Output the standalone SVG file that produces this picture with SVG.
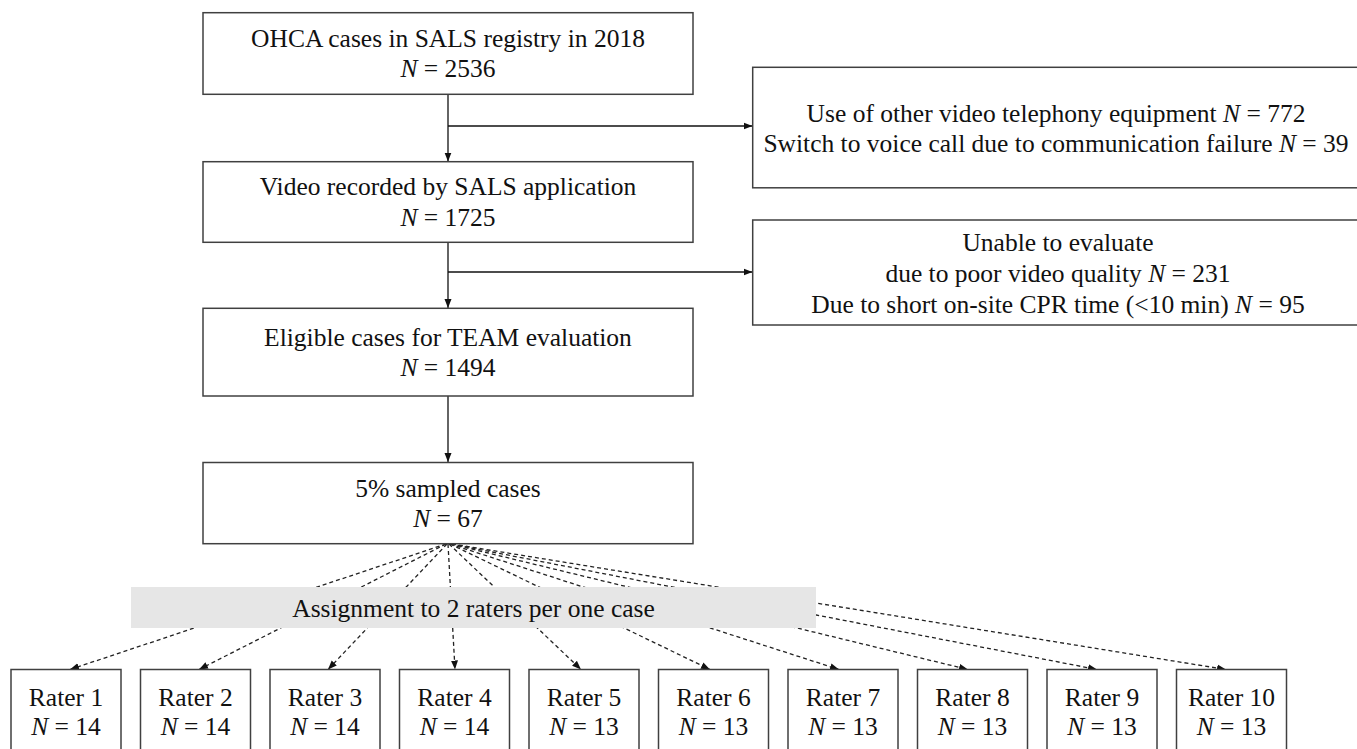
<svg xmlns="http://www.w3.org/2000/svg" width="1357" height="749" viewBox="0 0 1357 749">
<defs>
<style>
.box{fill:#ffffff;stroke:#404040;stroke-width:1.5}
.t{font-family:"Liberation Serif","Times New Roman",serif;font-size:25.5px;fill:#111;text-anchor:middle}
.i{font-style:italic}
.solid{fill:none;stroke:#111;stroke-width:1.3}
.dash{fill:none;stroke:#222;stroke-width:1.3;stroke-dasharray:4 3}
.band{fill:#e6e6e6;stroke:none}
</style>
<marker id="ah" markerUnits="userSpaceOnUse" markerWidth="10" markerHeight="8" refX="9" refY="4" orient="auto">
<path d="M0,0.5 L9,4 L0,7.5 z" fill="#111"/>
</marker>
</defs>
<rect width="1357" height="749" fill="#ffffff"/>

<g id="connectors">
<path class="solid" d="M448,94 V161.5" marker-end="url(#ah)"/>
<path class="solid" d="M448,126 H752.5" marker-end="url(#ah)"/>
<path class="solid" d="M448,242 V308" marker-end="url(#ah)"/>
<path class="solid" d="M448,272 H752.5" marker-end="url(#ah)"/>
<path class="solid" d="M448,396 V462" marker-end="url(#ah)"/>
<g class="dash">
<path d="M446,544 L70,669.5" marker-end="url(#ah)"/>
<path d="M446,544 L199,669.5" marker-end="url(#ah)"/>
<path d="M447,544 L328,669.5" marker-end="url(#ah)"/>
<path d="M448,544 L455,669.5" marker-end="url(#ah)"/>
<path d="M449,544 L581,669.5" marker-end="url(#ah)"/>
<path d="M450,544 L710,669.5" marker-end="url(#ah)"/>
<path d="M450,544 L839,669.5" marker-end="url(#ah)"/>
<path d="M451,544 L968,669.5" marker-end="url(#ah)"/>
<path d="M451,544 L1097,669.5" marker-end="url(#ah)"/>
<path d="M452,544 L1226,669.5" marker-end="url(#ah)"/>
</g>
</g>

<g id="assignment">
<rect class="band" x="131" y="587" width="685" height="41"/>
<text class="t" x="473.5" y="617">Assignment to 2 raters per one case</text>
</g>

<g id="ohca">
<rect class="box" x="203" y="12.7" width="490" height="81.6"/>
<text class="t" x="448" y="46.5">OHCA cases in SALS registry in 2018</text>
<text class="t" x="448" y="77"><tspan class="i">N</tspan> = 2536</text>
</g>

<g id="excluded1">
<rect class="box" x="752.7" y="67.3" width="610" height="120.5"/>
<text class="t" x="1056" y="121.5">Use of other video telephony equipment <tspan class="i">N</tspan> = 772</text>
<text class="t" x="1056" y="151.5">Switch to voice call due to communication failure <tspan class="i">N</tspan> = 39</text>
</g>

<g id="video">
<rect class="box" x="203" y="161.7" width="490" height="80.6"/>
<text class="t" x="448" y="195">Video recorded by SALS application</text>
<text class="t" x="448" y="225.7"><tspan class="i">N</tspan> = 1725</text>
</g>

<g id="excluded2">
<rect class="box" x="752.7" y="220" width="610" height="105"/>
<text class="t" x="1058" y="250.7">Unable to evaluate</text>
<text class="t" x="1058" y="281.7">due to poor video quality <tspan class="i">N</tspan> = 231</text>
<text class="t" x="1058" y="312.7">Due to short on-site CPR time (&lt;10 min) <tspan class="i">N</tspan> = 95</text>
</g>

<g id="eligible">
<rect class="box" x="203" y="308.3" width="490" height="87.7"/>
<text class="t" x="448" y="345.7">Eligible cases for TEAM evaluation</text>
<text class="t" x="448" y="376"><tspan class="i">N</tspan> = 1494</text>
</g>

<g id="sampled">
<rect class="box" x="203" y="462.5" width="490" height="81.2"/>
<text class="t" x="448" y="497">5% sampled cases</text>
<text class="t" x="448" y="527"><tspan class="i">N</tspan> = 67</text>
</g>

<g id="rater1"><rect class="box" x="11" y="669.5" width="110" height="100"/><text class="t" x="66" y="705.5">Rater 1</text><text class="t" x="66" y="735"><tspan class="i">N</tspan> = 14</text></g>
<g id="rater2"><rect class="box" x="140.5" y="669.5" width="110" height="100"/><text class="t" x="195.5" y="705.5">Rater 2</text><text class="t" x="195.5" y="735"><tspan class="i">N</tspan> = 14</text></g>
<g id="rater3"><rect class="box" x="270" y="669.5" width="110" height="100"/><text class="t" x="325" y="705.5">Rater 3</text><text class="t" x="325" y="735"><tspan class="i">N</tspan> = 14</text></g>
<g id="rater4"><rect class="box" x="399.5" y="669.5" width="110" height="100"/><text class="t" x="454.5" y="705.5">Rater 4</text><text class="t" x="454.5" y="735"><tspan class="i">N</tspan> = 14</text></g>
<g id="rater5"><rect class="box" x="529" y="669.5" width="110" height="100"/><text class="t" x="584" y="705.5">Rater 5</text><text class="t" x="584" y="735"><tspan class="i">N</tspan> = 13</text></g>
<g id="rater6"><rect class="box" x="658.5" y="669.5" width="110" height="100"/><text class="t" x="713.5" y="705.5">Rater 6</text><text class="t" x="713.5" y="735"><tspan class="i">N</tspan> = 13</text></g>
<g id="rater7"><rect class="box" x="788" y="669.5" width="110" height="100"/><text class="t" x="843" y="705.5">Rater 7</text><text class="t" x="843" y="735"><tspan class="i">N</tspan> = 13</text></g>
<g id="rater8"><rect class="box" x="917.5" y="669.5" width="110" height="100"/><text class="t" x="972.5" y="705.5">Rater 8</text><text class="t" x="972.5" y="735"><tspan class="i">N</tspan> = 13</text></g>
<g id="rater9"><rect class="box" x="1047" y="669.5" width="110" height="100"/><text class="t" x="1102" y="705.5">Rater 9</text><text class="t" x="1102" y="735"><tspan class="i">N</tspan> = 13</text></g>
<g id="rater10"><rect class="box" x="1176.5" y="669.5" width="110" height="100"/><text class="t" x="1231.5" y="705.5">Rater 10</text><text class="t" x="1231.5" y="735"><tspan class="i">N</tspan> = 13</text></g>
</svg>
